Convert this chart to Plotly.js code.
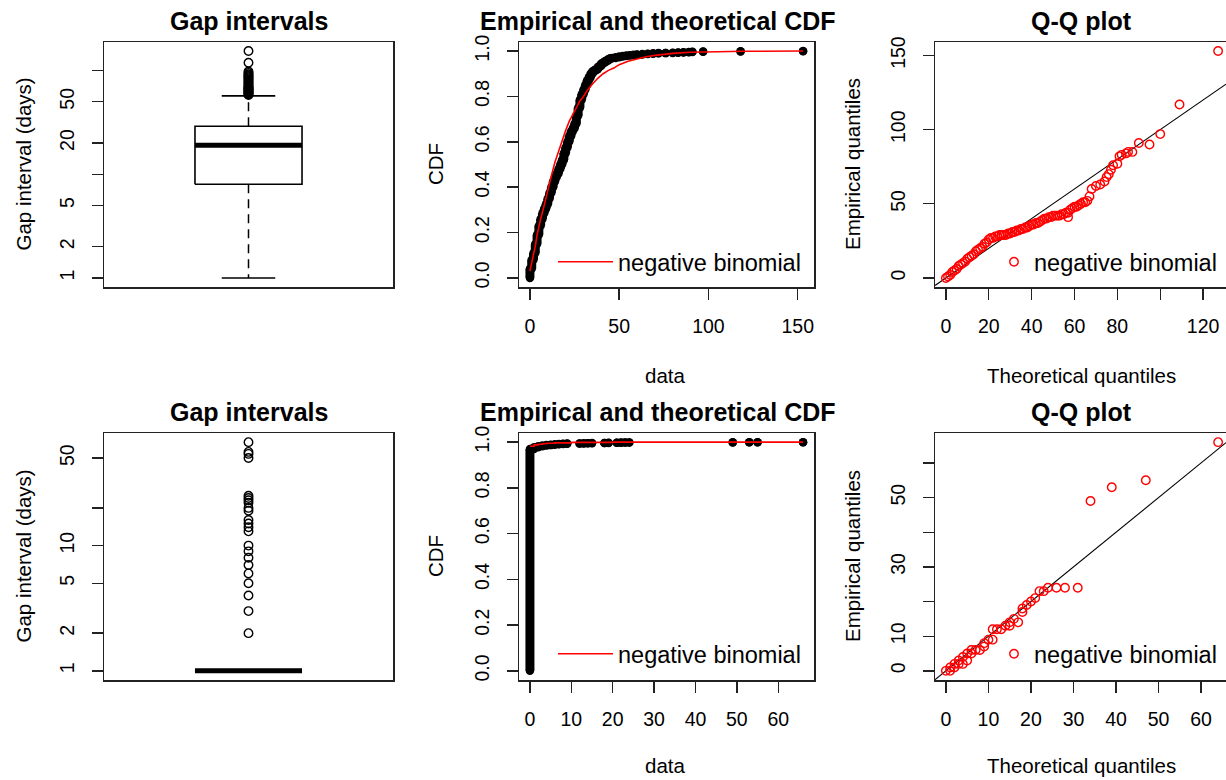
<!DOCTYPE html>
<html><head><meta charset="utf-8">
<script src="https://cdn.plot.ly/plotly-3.0.1.min.js"></script>
<style>html,body{margin:0;padding:0;background:#fff}#chart{width:1226px;height:780px}</style>
</head><body><div id="chart"></div>
<script>
// ---------------- DATA ----------------
// Row 1 dataset
const topBoxStats = [1, 8, 19, 29, 57];            // lower whisker, Q1, median, Q3, upper whisker (days)
const topBoxOutliers = [58,59,60,61,62,63,64,65,66,67,68,69,70,72,74,76,78,80,82,84,86,88,90,92,95,98,119,154];
const topEcdfX = [0,1,2,3,4,5,6,7,8,9,10,11,12,13,14,15,16,17,18,19,20,21,22,23,24,25,26,27,28,29,30,31,32,33,34,35,36,37,38,39,40,41,42,43,44,45,46,48,50,52,54,56,58,60,63,66,69,72,76,80,83,86,89,91,97,118,153];
const topEcdfF = [0.04,0.08,0.11,0.15,0.19,0.23,0.26,0.285,0.305,0.325,0.35,0.375,0.40,0.425,0.445,0.46,0.48,0.50,0.52,0.55,0.575,0.60,0.625,0.645,0.66,0.68,0.715,0.75,0.785,0.81,0.83,0.85,0.87,0.885,0.90,0.91,0.915,0.92,0.93,0.935,0.945,0.95,0.955,0.96,0.965,0.968,0.97,0.973,0.976,0.978,0.98,0.982,0.984,0.985,0.987,0.988,0.99,0.991,0.992,0.993,0.994,0.995,0.996,0.997,0.998,0.999,1.0];
const topTheoX = [0,1,2,3,4,5,6,8,10,12,14,16,18,20,22,24,26,28,30,32,35,38,41,44,47,50,55,60,65,70,75,80,90,100,120,153];
const topTheoF = [0.03,0.065,0.10,0.14,0.19,0.23,0.26,0.32,0.39,0.45,0.51,0.56,0.61,0.65,0.69,0.72,0.75,0.78,0.80,0.825,0.855,0.88,0.90,0.915,0.925,0.94,0.955,0.966,0.975,0.981,0.986,0.99,0.995,0.997,0.999,1.0];
const topQQTheo = [0,1,2,3,4,5,6,7,8,9,10,11,12,13,14,15,16,17,18,19,20,21,22,23,24,25,26,27,28,29,30,31,32,33,34,35,36,37,38,39,40,41,42,43,44,45,46,47,48,49,50,51,52,53,54,55,56,57,57,58,59,60,61,62,63,64,65,66,67,68,70,72,74,75,76,77,78,80,81,82,84,85,87,90,95,100,109,127];
const topQQEmp  = [0,1,2,4,5,6,8,9,10,11,13,14,15,16,18,19,20,21,23,24,26,27,27,28,28,29,29,29,29,30,30,31,31,32,32,33,33,34,34,35,36,36,37,37,38,39,40,40,41,41,42,42,42,42,43,43,44,44,41,46,47,48,48,49,50,51,51,52,55,60,62,63,65,68,70,73,76,77,82,83,84,85,85,91,90,97,117,153];

// Row 2 dataset
const botBoxStats = [1, 1, 1, 1, 1];
const botBoxOutliers = [2,3,4,5,6,7,8,9,10,13,14,15,16,19,20,22,23,24,25,50,54,56,67];
const botEcdfX = [0,1,2,3,4,5,6,7,8,9,12,13,14,15,18,19,21,22,23,24,49,53,55,66];
const botEcdfF = [0.970,0.978,0.982,0.985,0.987,0.989,0.991,0.992,0.993,0.994,0.9945,0.995,0.9955,0.996,0.9965,0.997,0.9975,0.998,0.9985,0.999,0.9992,0.9995,0.9997,1.0];
const botTheoX = [0,1,2,3,4,6,10,20,66];
const botTheoF = [0.982,0.988,0.991,0.993,0.995,0.997,0.999,1.0,1.0];
const botQQTheo = [0,1,1,2,2,3,3,4,4,5,5,6,6,7,8,9,9,10,11,11,12,13,14,15,15,16,17,18,18,19,20,21,22,23,24,26,28,31,34,39,47,64];
const botQQEmp  = [0,0,1,1,2,2,3,2,4,3,5,5,6,6,6,7,8,9,9,12,12,12,13,13,14,15,14,17,18,19,20,21,23,23,24,24,24,24,49,53,55,66];

// Tick labels
const cdfYTicks = [0,0.2,0.4,0.6,0.8,1.0];
const cdfYLabels = ['0.0','0.2','0.4','0.6','0.8','1.0'];
const topBoxTicks = [1,2,5,10,20,50,100];
const topBoxLabels = ['1','2','5','','20','50',''];
const botBoxTicks = [1,2,5,10,20,50];
const botBoxLabels = ['1','2','5','10','','50'];
const topCdfXTicks = [0,50,100,150];
const topQQXTicks = [0,20,40,60,80,100,120];
const topQQXLabels = ['0','20','40','60','80','','120'];
const topQQYTicks = [0,50,100,150];
const botXTicks = [0,10,20,30,40,50,60];
const botQQYLabels = ['0','10','','30','','50',''];

// ---------------- LAYOUT HELPERS ----------------
const W = 1226, H = 780;
const FONT = 'Liberation Sans, Arial, Helvetica, sans-serif';
const px = v => v / W, py = v => 1 - v / H;
const colX = [[104, 393], [519, 814], [935, 1226]];
const rowY = [[42, 287], [433, 680]];
const RED = '#ff0000';

function axis(dom, range, extra) {
  return Object.assign({
    domain: dom, range: range, autorange: false, showgrid: false, zeroline: false,
    showline: true, mirror: true, linecolor: '#222', linewidth: 1.5,
    ticks: 'outside', ticklen: 11, tickwidth: 1.4, tickcolor: '#222', ticklabelstandoff: 10,
    tickfont: {family: FONT, size: 19.5, color: '#000'}, fixedrange: true
  }, extra || {});
}

const traces = [];
function boxTraces(stats, outl, xa, ya) {
  const [lo, q1, med, q3, hi] = stats;
  const c = 1, h = 0.2, ch = 0.1;
  const base = {xaxis: xa, yaxis: ya, showlegend: false, hoverinfo: 'skip', mode: 'lines'};
  traces.push(Object.assign({}, base, {x: [c, c, null, c, c], y: [q3, hi, null, q1, lo], line: {color: '#000', width: 1.5, dash: '9px,6px'}}));
  traces.push(Object.assign({}, base, {x: [c-ch, c+ch, null, c-ch, c+ch], y: [hi, hi, null, lo, lo], line: {color: '#000', width: 1.6}}));
  traces.push(Object.assign({}, base, {x: [c-h, c+h, c+h, c-h, c-h], y: [q1, q1, q3, q3, q1], line: {color: '#000', width: 1.6}}));
  traces.push(Object.assign({}, base, {x: [c-h, c+h], y: [med, med], line: {color: '#000', width: 5}}));
  traces.push({xaxis: xa, yaxis: ya, showlegend: false, mode: 'markers', x: outl.map(() => c), y: outl,
    marker: {symbol: 'circle-open', size: 8.5, color: '#000', line: {width: 1.4, color: '#000'}}});
}
function ecdfTraces(xs, fs, xa, ya) {
  const X = [], Y = [];
  xs.forEach((x, i) => { X.push(x, x, null); Y.push(i ? fs[i-1] : 0, fs[i], null); });
  traces.push({xaxis: xa, yaxis: ya, showlegend: false, mode: 'lines+markers', x: X, y: Y,
    line: {color: '#000', width: 9}, marker: {size: 8.5, color: '#000'}, connectgaps: false});
}
function theoTrace(xs, fs, xa, ya, leg, shape) {
  traces.push({xaxis: xa, yaxis: ya, name: 'negative binomial', legend: leg, mode: 'lines', x: xs, y: fs,
    line: {color: RED, width: 1.6, shape: shape}});
}
function qqTraces(t, e, xa, ya, leg, xr) {
  traces.push({xaxis: xa, yaxis: ya, showlegend: false, mode: 'lines', x: xr, y: xr, hoverinfo: 'skip',
    line: {color: '#000', width: 1.1}});
  traces.push({xaxis: xa, yaxis: ya, name: 'negative binomial', legend: leg, mode: 'markers', x: t, y: e,
    marker: {symbol: 'circle-open', size: 8.5, color: RED, line: {width: 1.4, color: RED}}});
}

// ranges (R style 4% extension)
const ext = (a, b) => [a - 0.04 * (b - a), b + 0.04 * (b - a)];
const L10 = Math.log10;
const r1y = ext(0, L10(154)), r4y = ext(0, L10(67));
const r2x = ext(0, 153), r5x = ext(0, 66), cdfY = ext(0, 1);
const r3full = ext(0, 127), r3x = [r3full[0], r3full[0] + 291 / (294 / (r3full[1] - r3full[0]))];
const r3y = ext(0, 153);
const r6full = ext(0, 64), r6x = [r6full[0], r6full[0] + 291 / (294 / (r6full[1] - r6full[0]))];
const r6y = ext(0, 66);
const boxX = [0.46, 1.54];

boxTraces(topBoxStats, topBoxOutliers, 'x', 'y');
ecdfTraces(topEcdfX, topEcdfF, 'x2', 'y2');
theoTrace(topTheoX, topTheoF, 'x2', 'y2', 'legend', 'linear');
qqTraces(topQQTheo, topQQEmp, 'x3', 'y3', 'legend2', r3x);
boxTraces(botBoxStats, botBoxOutliers, 'x4', 'y4');
ecdfTraces(botEcdfX, botEcdfF, 'x5', 'y5');
theoTrace(botTheoX, botTheoF, 'x5', 'y5', 'legend3', 'hv');
qqTraces(botQQTheo, botQQEmp, 'x6', 'y6', 'legend4', r6x);

const dom = (c, r) => ({x: [px(colX[c][0]), px(colX[c][1])], y: [py(rowY[r][1]), py(rowY[r][0])]});
const D = [dom(0,0), dom(1,0), dom(2,0), dom(0,1), dom(1,1), dom(2,1)];
const yExtra = {tickangle: -90};
const layout = {
  width: W, height: H, margin: {l: 0, r: 0, t: 0, b: 0},
  paper_bgcolor: '#fff', plot_bgcolor: '#fff', font: {family: FONT, color: '#000'},
  xaxis:  axis(D[0].x, boxX, {anchor: 'y', ticks: '', showticklabels: false}),
  yaxis:  axis(D[0].y, r1y, Object.assign({anchor: 'x', type: 'log', tickvals: topBoxTicks, ticktext: topBoxLabels}, yExtra)),
  xaxis2: axis(D[1].x, r2x, {anchor: 'y2', tickvals: topCdfXTicks}),
  yaxis2: axis(D[1].y, cdfY, Object.assign({anchor: 'x2', tickvals: cdfYTicks, ticktext: cdfYLabels}, yExtra)),
  xaxis3: axis(D[2].x, r3x, {anchor: 'y3', tickvals: topQQXTicks, ticktext: topQQXLabels}),
  yaxis3: axis(D[2].y, r3y, Object.assign({anchor: 'x3', mirror: false, tickvals: topQQYTicks}, yExtra)),
  xaxis4: axis(D[3].x, boxX, {anchor: 'y4', ticks: '', showticklabels: false}),
  yaxis4: axis(D[3].y, r4y, Object.assign({anchor: 'x4', type: 'log', tickvals: botBoxTicks, ticktext: botBoxLabels}, yExtra)),
  xaxis5: axis(D[4].x, r5x, {anchor: 'y5', tickvals: botXTicks}),
  yaxis5: axis(D[4].y, cdfY, Object.assign({anchor: 'x5', tickvals: cdfYTicks, ticktext: cdfYLabels}, yExtra)),
  xaxis6: axis(D[5].x, r6x, {anchor: 'y6', tickvals: botXTicks}),
  yaxis6: axis(D[5].y, r6y, Object.assign({anchor: 'x6', mirror: false, tickvals: botXTicks, ticktext: botQQYLabels}, yExtra)),
  annotations: [], showlegend: true
};
const legBase = (x, y, iw) => ({x: px(x), y: py(y), xanchor: 'left', yanchor: 'middle', bgcolor: 'rgba(0,0,0,0)',
  borderwidth: 0, itemwidth: iw, font: {family: FONT, size: 23.5, color: '#000'}, itemclick: false, itemdoubleclick: false});
layout.legend = legBase(553, 262, 55);
layout.legend2 = legBase(994, 262, 30);
layout.legend3 = legBase(553, 654, 55);
layout.legend4 = legBase(994, 654, 30);

function ann(text, x, y, opts) {
  layout.annotations.push(Object.assign({text: text, x: px(x), y: py(y), xref: 'paper', yref: 'paper',
    xanchor: 'center', yanchor: 'middle', showarrow: false, font: {family: FONT, size: 20.5, color: '#000'}}, opts || {}));
}
const titleFont = {family: FONT, size: 25, color: '#000', weight: 'bold'};
[21, 412].forEach(ty => {
  ann('<b>Gap intervals</b>', 249, ty, {font: titleFont});
  ann('<b>Empirical and theoretical CDF</b>', 657.5, ty, {font: titleFont});
  ann('<b>Q-Q plot</b>', 1081.7, ty, {font: titleFont});
});
[[164.5, 375], [556.5, 765]].forEach(([cy, by]) => {
  ann('Gap interval (days)', 23, cy, {textangle: -90});
  ann('CDF', 435.5, cy, {textangle: -90});
  ann('Empirical quantiles', 852.5, cy, {textangle: -90});
  ann('data', 665, by);
  ann('Theoretical quantiles', 1081, by);
});

Plotly.newPlot('chart', traces, layout, {displayModeBar: false, staticPlot: true});
</script></body></html>
